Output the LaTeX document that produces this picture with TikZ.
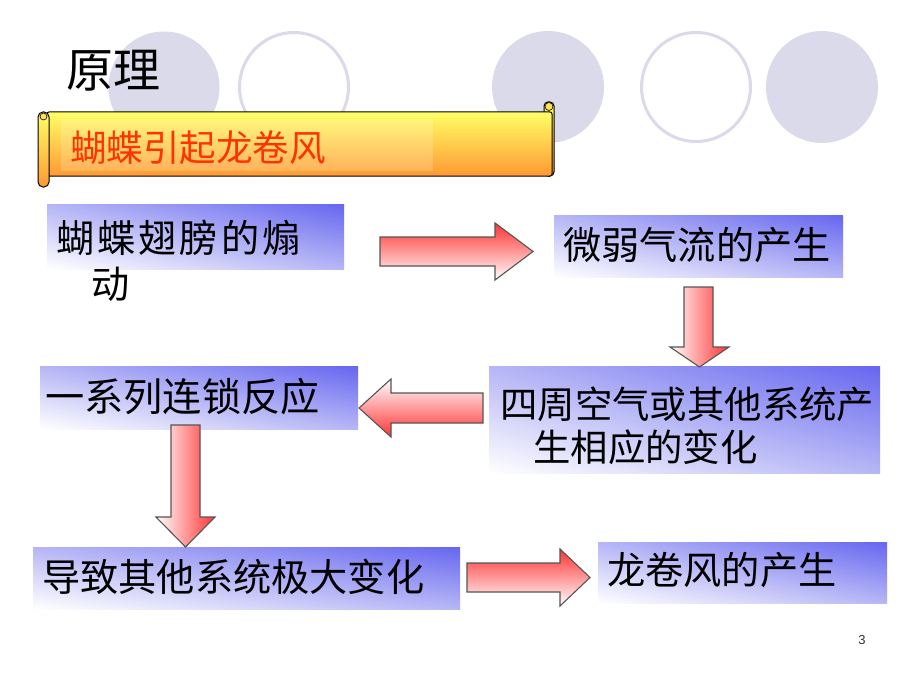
\documentclass[tikz,border=0pt]{standalone}
\usepackage{fontspec}
\newfontfamily\cjk{Noto Sans CJK SC}
\newfontfamily\cjkwide[LetterSpace=8]{Noto Sans CJK SC}
\setmainfont{Liberation Sans}
\usetikzlibrary{shadings}
\definecolor{lav}{HTML}{DADAEB}
\definecolor{boxblue}{HTML}{6666F0}
\definecolor{boxmid}{HTML}{B6B6F6}
\definecolor{scrolltop}{HTML}{FFFF66}
\definecolor{scrollbot}{HTML}{FF9933}
\definecolor{arrred}{HTML}{FF3333}
\definecolor{arrline}{HTML}{555555}
\definecolor{bannertext}{HTML}{FF3300}
\tikzset{
  disc/.style={fill=lav, draw=none},
  ring/.style={draw=lav, line width=3pt, fill=white},
  gbox/.style={draw=none, inner sep=0pt, lower left=white, upper right=boxblue, upper left=boxmid, lower right=boxmid},
  btext/.style={inner sep=0pt, anchor=west, font=\cjk\fontsize{38.2}{45}\selectfont, align=left},
  arrE/.style={draw=arrline, line width=1.1pt, top color=arrred, bottom color=white, line join=miter},
  arrW/.style={draw=arrline, line width=1.1pt, top color=white, bottom color=arrred, line join=miter},
  arrS/.style={draw=arrline, line width=1.1pt, left color=white, right color=arrred, line join=miter},
  scroll/.style={draw=black, line width=1pt, top color=scrolltop, bottom color=scrollbot},
}
\begin{document}
\begin{tikzpicture}[x=1pt,y=-1pt]
\useasboundingbox[fill=white] (0,0) rectangle (920,690);
% decorative circles
\fill[disc] (164,87) circle (55.5);
\draw[ring] (294,87) circle (54.5);
\fill[disc] (548,87) circle (56);
\draw[ring] (696,87) circle (54.5);
\fill[disc] (822,87) circle (56);
% title
\node[inner sep=0pt, anchor=west, font=\cjk\fontsize{47}{50}\selectfont] (title) at (66,71) {原理};
% scroll banner
\shade[scroll, rounded corners=4pt] (544,102) rectangle (554,176);
\shade[scroll, rounded corners=2pt] (47,112) rectangle (552,176);
\shade[scroll, rounded corners=5pt] (38,112) rectangle (49,187);
\fill[scrolltop!70!scrollbot, draw=black, line width=0.6pt] (549,106.5) circle (4);
\fill[scrolltop!70!scrollbot, draw=black, line width=0.6pt] (43.5,116.5) circle (3.5);
\fill[white, opacity=0.18] (61,119) rectangle (433,171);
\node[inner sep=0pt, anchor=west, text=bannertext, font=\cjk\fontsize{36.5}{40}\selectfont] (banner) at (70,148) {蝴蝶引起龙卷风};
% boxes
\shade[gbox] (47,204) rectangle (344,269);
\shade[gbox] (554,215) rectangle (843,277);
\shade[gbox] (40,366) rectangle (358,429);
\shade[gbox] (489,366) rectangle (880,473);
\shade[gbox] (33,547) rectangle (460,609);
\shade[gbox] (598,542) rectangle (887,603);
\coordinate (b1) at (195,236);
\coordinate (b2) at (698,246);
\coordinate (b3) at (199,397);
\coordinate (b4) at (684,419);
\coordinate (b5) at (246,578);
\coordinate (b6) at (742,572);
% texts
\node[btext, font=\cjkwide\fontsize{38.2}{45}\selectfont] (t1a) at (56,238) {蝴蝶翅膀的煽};
\node[btext] (t1b) at (91,284) {动};
\node[btext] (t2) at (563,245) {微弱气流的产生};
\node[btext, font=\cjk\fontsize{39.2}{45}\selectfont] (t3) at (45,397) {一系列连锁反应};
\node[btext, font=\cjk\fontsize{37.4}{45}\selectfont] (t4a) at (500,404) {四周空气或其他系统产};
\node[btext, font=\cjk\fontsize{37.4}{45}\selectfont] (t4b) at (533,447) {生相应的变化};
\node[btext] (t5) at (42,577) {导致其他系统极大变化};
\node[btext] (t6) at (607,570) {龙卷风的产生};
% block arrows
\shade[arrE] (380,237) -- (495,237) -- (495,223) -- (533,251.5) -- (495,280) -- (495,266) -- (380,266) -- cycle;
\shade[arrS] (684,287) -- (713,287) -- (713,347) -- (729,347) -- (699.5,367) -- (670,347) -- (684,347) -- cycle;
\shade[arrW] (483,393) -- (391,393) -- (391,379) -- (359,408) -- (391,437) -- (391,423) -- (483,423) -- cycle;
\shade[arrS] (171,425) -- (200,425) -- (200,517) -- (215,517) -- (185.5,547) -- (156,517) -- (171,517) -- cycle;
\shade[arrE] (467,563) -- (560,563) -- (560,549) -- (590,577.5) -- (560,606) -- (560,592) -- (467,592) -- cycle;
% page number
\node[inner sep=0pt, font=\fontsize{13}{15}\selectfont, text=black!80] (pg) at (862,640) {3};
\end{tikzpicture}
\end{document}
